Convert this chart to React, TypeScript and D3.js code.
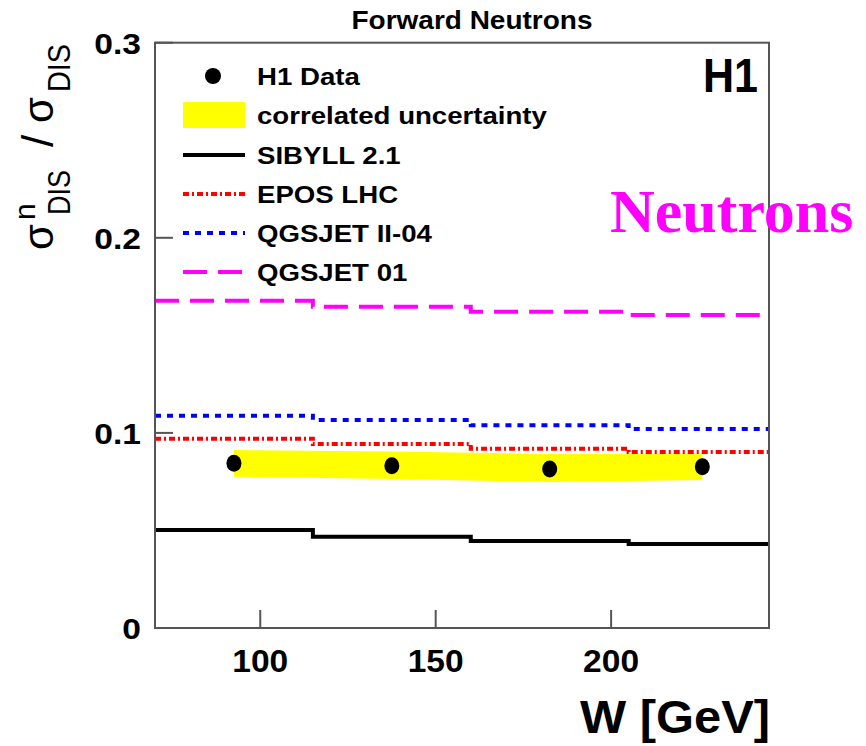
import React, { useEffect, useRef } from "react";
import * as d3 from "d3";

// W bins (GeV) and measured points
const binEdges = [70, 115, 160, 205, 245];
const dataW = [92.5, 137.5, 182.5, 226];
const dataVal = [0.0844, 0.0832, 0.0815, 0.0827];
const bandUp = [0.0912, 0.0905, 0.0892, 0.0894];
const bandLo = [0.0775, 0.0764, 0.0748, 0.0759];

// model predictions per bin
const sibyll = [0.0502, 0.0468, 0.0446, 0.0431];
const epos = [0.097, 0.0943, 0.0919, 0.0902];
const qgsjetII = [0.1088, 0.1066, 0.1039, 0.102];
const qgsjet01 = [0.1677, 0.1646, 0.1621, 0.1604];

const xTicks = [100, 150, 200];
const yTicks = [0, 0.1, 0.2, 0.3];

const models = [
  { name: "SIBYLL 2.1", values: sibyll, color: "#000000", dash: null },
  { name: "EPOS LHC", values: epos, color: "#ff0000", dash: "6,3,2,3" },
  { name: "QGSJET II-04", values: qgsjetII, color: "#0000ff", dash: "6,6" },
  { name: "QGSJET 01", values: qgsjet01, color: "#ff00ff", dash: "24,11" },
];

const SANS = "'Liberation Sans', Arial, Helvetica, sans-serif";

// widen text horizontally, the original plot is a bit stretched
function stretch(sel: any, factor: number) {
  sel.each(function (this: SVGTextElement) {
    const w = this.getComputedTextLength();
    d3.select(this).attr("textLength", w * factor).attr("lengthAdjust", "spacingAndGlyphs");
  });
}

export default function App() {
  const ref = useRef<SVGSVGElement>(null);

  useEffect(() => {
    const width = 866;
    const height = 746;
    const m = { left: 155, top: 42.7, right: 769, bottom: 628 };

    const svg = d3.select(ref.current);
    svg.selectAll("*").remove();
    svg.attr("width", width).attr("height", height);

    const x = d3.scaleLinear().domain([70, 245]).range([m.left, m.right]);
    const y = d3.scaleLinear().domain([0, 0.3]).range([m.bottom, m.top]);

    // title
    svg.append("text")
      .attr("x", 472).attr("y", 29)
      .attr("text-anchor", "middle")
      .attr("font-family", SANS).attr("font-weight", "bold")
      .attr("font-size", 26)
      .attr("textLength", 241).attr("lengthAdjust", "spacingAndGlyphs")
      .text("Forward Neutrons");

    // correlated uncertainty band
    const bandData = dataW.map((w, i) => ({ w, lo: bandLo[i], up: bandUp[i] }));
    svg.append("path")
      .datum(bandData)
      .attr("fill", "#ffff00")
      .attr("d", d3.area<any>().x(d => x(d.w)).y0(d => y(d.lo)).y1(d => y(d.up)));

    // step histograms for models
    const stepLine = d3.line<any>().x(d => x(d[0])).y(d => y(d[1])).curve(d3.curveStepAfter);
    models.forEach(mod => {
      const pts = binEdges.map((e, i) => [e, mod.values[Math.min(i, mod.values.length - 1)]]);
      svg.append("path")
        .datum(pts)
        .attr("fill", "none")
        .attr("stroke", mod.color)
        .attr("stroke-width", 4)
        .attr("stroke-dasharray", mod.dash)
        .attr("d", stepLine);
    });

    // data points
    svg.append("g").selectAll("ellipse")
      .data(dataW)
      .join("ellipse")
      .attr("cx", d => x(d))
      .attr("cy", (d, i) => y(dataVal[i]))
      .attr("rx", 7.5).attr("ry", 8.5)
      .attr("fill", "#000");

    // frame
    svg.append("rect")
      .attr("x", m.left).attr("y", m.top)
      .attr("width", m.right - m.left).attr("height", m.bottom - m.top)
      .attr("fill", "none").attr("stroke", "#555").attr("stroke-width", 2);

    // ticks (inward)
    svg.append("g").selectAll("line")
      .data(xTicks).join("line")
      .attr("x1", d => x(d)).attr("x2", d => x(d))
      .attr("y1", m.bottom).attr("y2", m.bottom - 18)
      .attr("stroke", "#555").attr("stroke-width", 2);
    svg.append("g").selectAll("line")
      .data(yTicks.slice(1)).join("line")
      .attr("x1", m.left).attr("x2", m.left + 18)
      .attr("y1", d => y(d)).attr("y2", d => y(d))
      .attr("stroke", "#555").attr("stroke-width", 2);

    // tick labels
    svg.append("g").selectAll("text")
      .data(xTicks).join("text")
      .attr("x", d => x(d)).attr("y", 672)
      .attr("text-anchor", "middle")
      .attr("font-family", SANS).attr("font-weight", "bold").attr("font-size", 31)
      .attr("textLength", 56).attr("lengthAdjust", "spacingAndGlyphs")
      .text(d => String(d));
    const yl0 = svg.append("g").selectAll("text")
      .data(yTicks).join("text")
      .attr("x", 141).attr("y", d => y(d) + 11)
      .attr("text-anchor", "end")
      .attr("font-family", SANS).attr("font-weight", "bold").attr("font-size", 30)
      .text(d => (d === 0 ? "0" : d3.format(".1f")(d)));
    stretch(yl0, 1.12);

    // x axis title
    svg.append("text")
      .attr("x", 770).attr("y", 733)
      .attr("text-anchor", "end")
      .attr("font-family", SANS).attr("font-weight", "bold").attr("font-size", 46)
      .attr("textLength", 190).attr("lengthAdjust", "spacingAndGlyphs")
      .text("W [GeV]");

    // y axis title (rotated)
    const yl = svg.append("g").attr("transform", "translate(53,250) rotate(-90)")
      .attr("font-family", SANS);
    yl.append("text").attr("x", 0).attr("y", 0).attr("font-size", 42).text("σ");
    yl.append("text").attr("x", 35).attr("y", 17).attr("font-size", 31)
      .attr("textLength", 45).attr("lengthAdjust", "spacingAndGlyphs").text("DIS");
    yl.append("text").attr("x", 30).attr("y", -18).attr("font-size", 30).text("n");
    yl.append("text").attr("x", 103).attr("y", 0).attr("font-size", 44).text("/");
    yl.append("text").attr("x", 127).attr("y", 0).attr("font-size", 42).text("σ");
    yl.append("text").attr("x", 158).attr("y", 17).attr("font-size", 31)
      .attr("textLength", 48).attr("lengthAdjust", "spacingAndGlyphs").text("DIS");

    // H1 logo
    svg.append("text")
      .attr("x", 758).attr("y", 92)
      .attr("text-anchor", "end")
      .attr("font-family", SANS).attr("font-weight", "bold").attr("font-size", 48)
      .attr("textLength", 55).attr("lengthAdjust", "spacingAndGlyphs")
      .text("H1");

    // legend
    const lg = svg.append("g").attr("font-family", SANS).attr("font-weight", "bold").attr("font-size", 24);
    const rowY = [76, 115, 155, 194, 233, 272];
    lg.append("circle").attr("cx", 213).attr("cy", rowY[0]).attr("r", 8).attr("fill", "#000");
    lg.append("rect").attr("x", 183).attr("y", rowY[1] - 13).attr("width", 62).attr("height", 26).attr("fill", "#ffff00");
    models.forEach((mod, i) => {
      lg.append("line")
        .attr("x1", 183).attr("x2", 245)
        .attr("y1", rowY[i + 2]).attr("y2", rowY[i + 2])
        .attr("stroke", mod.color).attr("stroke-width", 4)
        .attr("stroke-dasharray", mod.dash);
    });
    const labels = ["H1 Data", "correlated uncertainty", ...models.map(d => d.name)];
    const lt = lg.selectAll("text.lab")
      .data(labels).join("text")
      .attr("class", "lab")
      .attr("x", 257).attr("y", (d, i) => rowY[i] + 9)
      .text(d => d);
    stretch(lt, 1.15);

    // overlay label
    svg.append("text")
      .attr("x", 610).attr("y", 232)
      .attr("font-family", "'Liberation Serif', 'Times New Roman', serif")
      .attr("font-weight", "bold").attr("font-size", 62)
      .attr("fill", "#ff00ff")
      .text("Neutrons");
  }, []);

  return (
    <svg ref={ref} style={{ position: "absolute", left: 0, top: 0, background: "#fff" }} />
  );
}
